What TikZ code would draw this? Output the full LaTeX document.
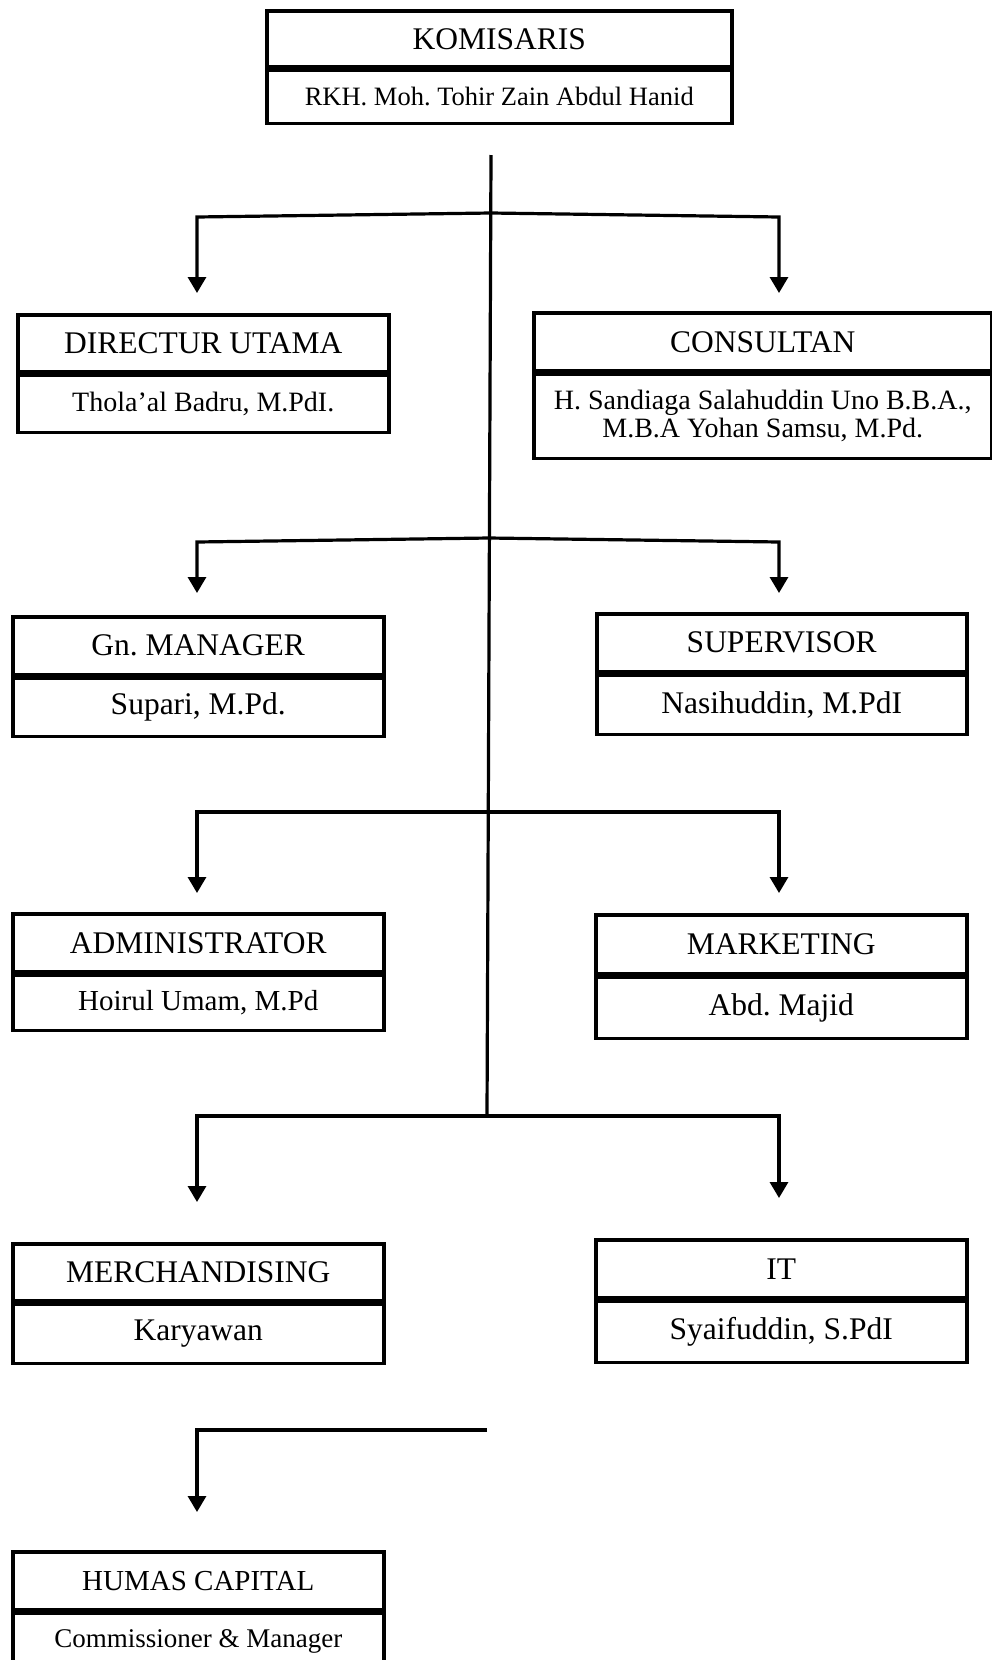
\documentclass[tikz,border=0pt]{standalone}
\usepackage{fontspec}
\setmainfont{Liberation Serif}
\usetikzlibrary{arrows.meta}
\newcommand\ukuran[1]{\fontsize{#1}{#1}\selectfont}
\frenchspacing
\begin{document}
\begin{tikzpicture}[x=1pt,y=-1pt,
  sel/.style={draw, line width=3.5pt, inner sep=0pt, align=center},
  garis/.style={line width=3.2pt},
  panah/.style={garis, -{Triangle[length=16pt,width=18pt]}}]
  \useasboundingbox (0,0) rectangle (992,1660);
  % kotak jabatan: nama / x / y / lebar / tinggi atas / tinggi bawah / huruf atas / huruf bawah / jabatan / orang
  \foreach \id/\x/\y/\w/\ha/\hb/\fa/\fb/\jab/\org in {
    kom/265/9/465/56/53/31.5/26.5/{KOMISARIS}/{RKH. Moh. Tohir Zain Abdul Hanid},
    dir/16/313/371/57/57/31.5/28/{DIRECTUR UTAMA}/{Thola'al Badru, M.PdI.},
    kon/532/311/458/58/84/31.5/28/{CONSULTAN}/{H. Sandiaga Salahuddin Uno B.B.A.,\\ M.B.A Yohan Samsu, M.Pd.},
    gm/11/615/371/58/58/31.5/31.5/{Gn. MANAGER}/{Supari, M.Pd.},
    spv/595/612/370/58/59/31.5/31.5/{SUPERVISOR}/{Nasihuddin, M.PdI},
    adm/11/912/371/58/55/31.5/29/{ADMINISTRATOR}/{Hoirul Umam, M.Pd},
    mkt/594/913/371/59/61/31.5/31.5/{MARKETING}/{Abd. Majid},
    mch/11/1242/371/57/59/31.5/31.5/{MERCHANDISING}/{Karyawan},
    it/594/1238/371/58/61/31.5/31.5/{IT}/{Syaifuddin, S.PdI},
    hms/11/1550/371/58/57/29/27/{HUMAS CAPITAL}/{Commissioner \& Manager}} {
    \node[sel, anchor=north west, minimum width=\w, minimum height=\ha, font=\ukuran{\fa}] (\id) at (\x,\y) {\jab};
    \node[sel, anchor=north, minimum width=\w, minimum height=\hb, font=\ukuran{\fb}] (\id-n) at (\id.south) {\org};
  }
  % garis batang
  \coordinate (atas) at (491,155);
  \coordinate (bawah) at (487,1116);
  \draw[garis] (atas) -- (bawah);
  \foreach \i/\xb/\yb/\ye/\tl/\tr in {1/491/213/217/293/293, 2/489/538/542/593/593,
      3/488/812/812/893/893, 4/487/1116/1116/1202/1198} {
    \coordinate (b\i) at (\xb,\yb);
    \coordinate (kiri\i) at (197,\tl);
    \coordinate (kanan\i) at (779,\tr);
    \draw[panah] (b\i) -- (197,\ye) -- (kiri\i);
    \draw[panah] (b\i) -- (779,\ye) -- (kanan\i);
  }
  \coordinate (cabang) at (487,1430);
  \coordinate (kiri5) at (197,1512);
  \draw[panah] (cabang) -| (kiri5);
\end{tikzpicture}
\end{document}
